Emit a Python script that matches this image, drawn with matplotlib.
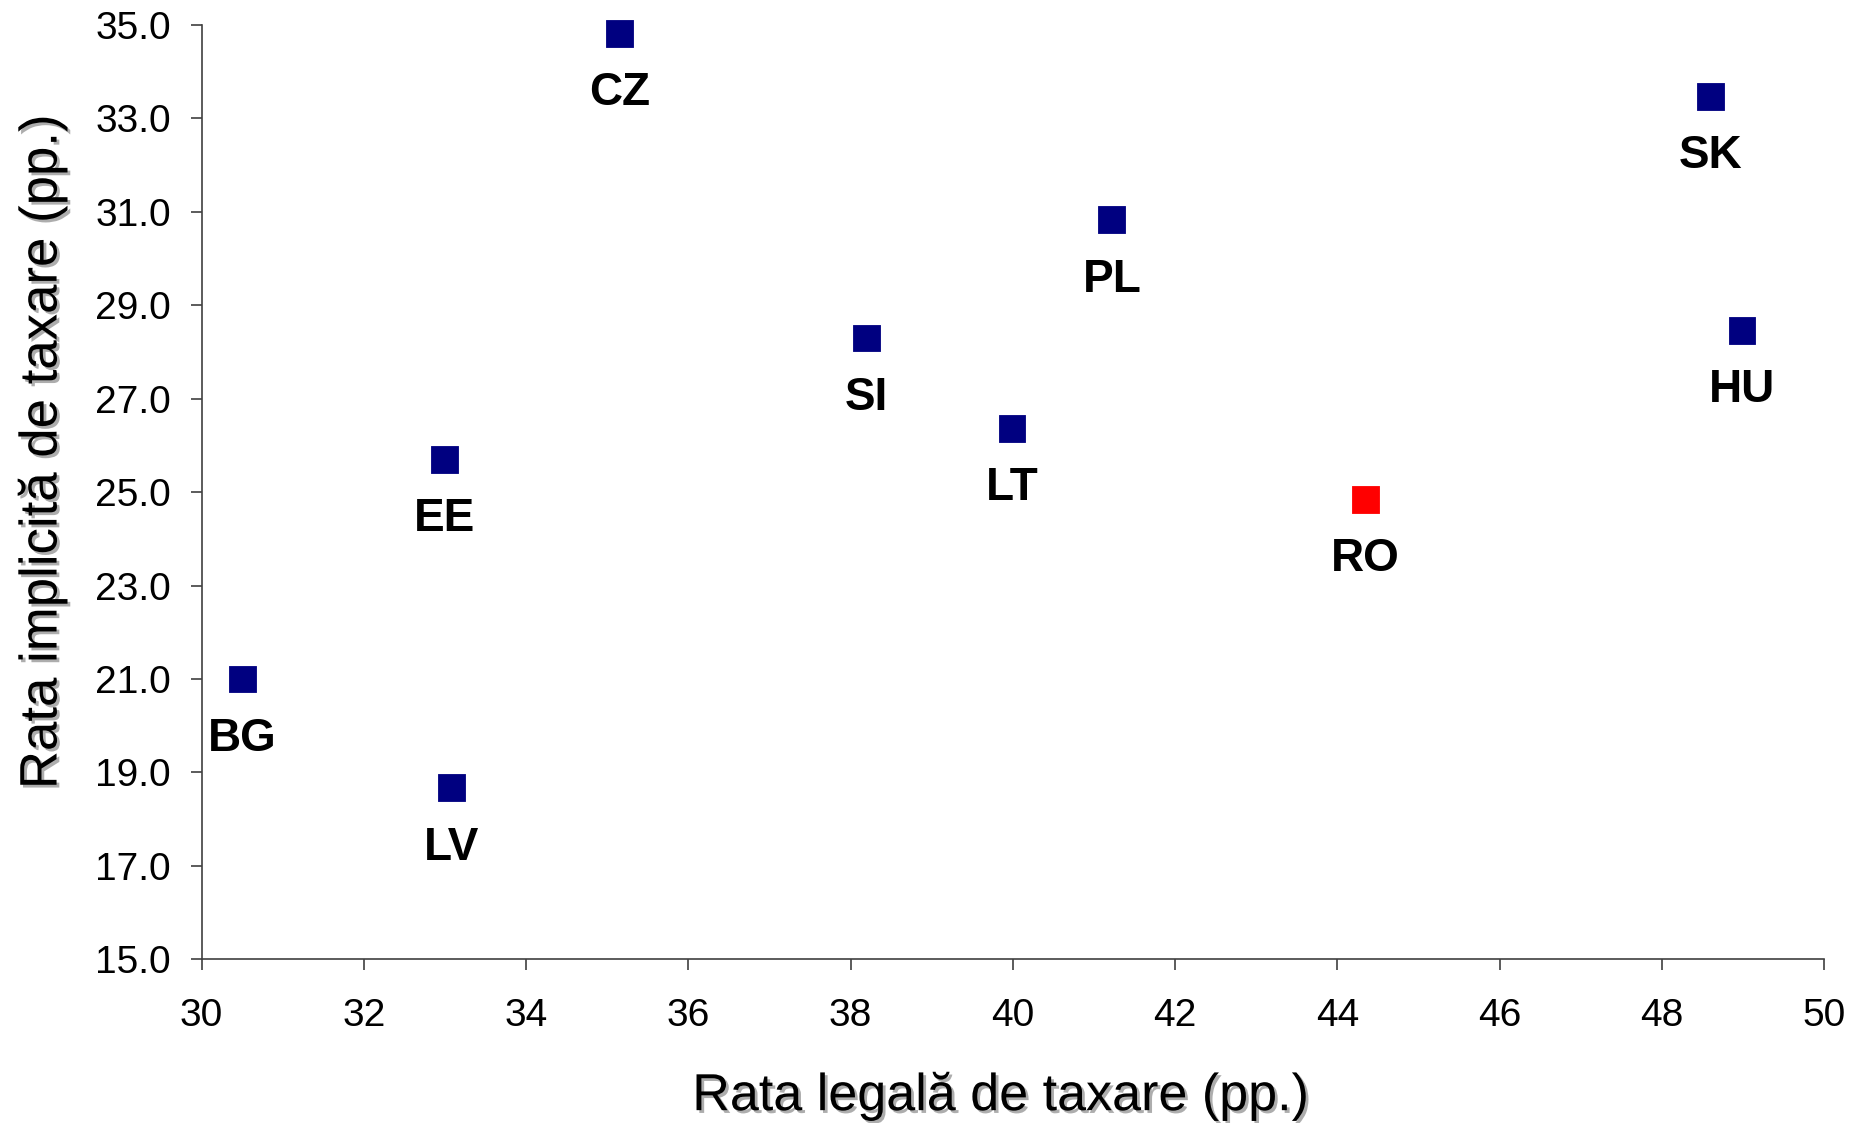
import matplotlib.pyplot as plt
from matplotlib import patheffects

countries = ["CZ", "SK", "PL", "SI", "HU", "LT", "EE", "RO", "BG", "LV"]
legal_rate = [35.15, 48.6, 41.22, 38.2, 48.99, 39.99, 32.99, 44.35, 30.5, 33.08]
implicit_rate = [34.82, 33.47, 30.83, 28.3, 28.46, 26.37, 25.7, 24.84, 21.0, 18.67]
highlight = "RO"

x_ticks = list(range(30, 51, 2))
y_ticks = [15 + 2 * i for i in range(11)]


def main() -> None:
    plt.rcParams["font.family"] = ["Liberation Sans", "DejaVu Sans"]
    fig = plt.figure(figsize=(18.67, 11.23), dpi=100)
    ax = fig.add_axes([0.108, 0.1458, 0.869, 0.8319])

    colors = ["#ff0000" if c == highlight else "#000080" for c in countries]
    ax.scatter(legal_rate, implicit_rate, marker="s", s=370, c=colors,
               edgecolors=colors, linewidths=0.6, zorder=3, clip_on=False)

    for name, x, y in zip(countries, legal_rate, implicit_rate):
        ax.annotate(name, (x, y), xytext=(0, -43), textcoords="offset points",
                    ha="center", va="center", fontsize=33, fontweight="bold")

    ax.set_xlim(30, 50)
    ax.set_ylim(15, 35)
    ax.set_xticks(x_ticks)
    ax.set_yticks(y_ticks)
    ax.set_xticklabels([str(t) for t in x_ticks])
    ax.set_yticklabels([f"{t:.1f}" for t in y_ticks])

    for side in ("top", "right"):
        ax.spines[side].set_visible(False)
    for side in ("left", "bottom"):
        ax.spines[side].set_color("#404040")
        ax.spines[side].set_linewidth(1.2)
    ax.tick_params(axis="both", direction="out", length=8, width=1.2,
                   color="#404040", labelsize=28)
    ax.tick_params(axis="x", pad=20)
    ax.tick_params(axis="y", pad=14)

    shadow = [patheffects.SimplePatchShadow(offset=(2, -2), shadow_rgbFace="#999999", alpha=0.8),
              patheffects.Normal()]
    ax.set_xlabel("Rata legală de taxare (pp.)", fontsize=37.5, labelpad=27,
                  path_effects=shadow)
    ax.set_ylabel("Rata implicită de taxare (pp.)", fontsize=38, labelpad=20,
                  path_effects=shadow)
    ax.xaxis.label.set_x(0.4927)
    ax.yaxis.label.set_y(0.543)

    fig.savefig("out.png", dpi=100)
    plt.close(fig)


if __name__ == "__main__":
    main()
